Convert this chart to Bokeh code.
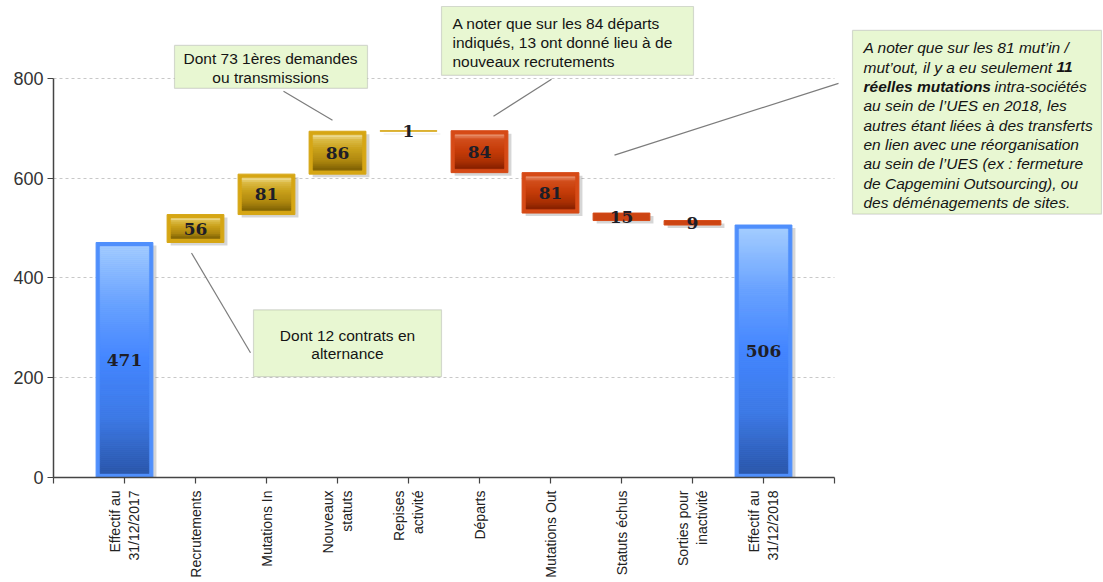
import math
from bokeh.plotting import figure
from bokeh.models import Range1d, FixedTicker, BoxAnnotation, Label, Arrow
from bokeh.core.properties import value
from bokeh.embed import file_html
from bokeh.resources import INLINE

# ---------------- data ----------------
categories = ["Effectif au\n31/12/2017", "Recrutements", "Mutations In", "Nouveaux\nstatuts",
              "Repises\nactivité", "Départs", "Mutations Out", "Statuts échus",
              "Sorties pour\ninactivité", "Effectif au\n31/12/2018"]
values = [471, 56, 81, 86, 1, -84, -81, -15, -9, 506]
kinds = ["total", "up", "up", "up", "up", "down", "down", "down", "down", "total"]
y_ticks = [0, 200, 400, 600, 800]

# ---------------- geometry ----------------
W, H = 1102, 580
BL = 53
BB = H - 478
PX_X = 71.0      # pixels per category
PX_Y = 0.5       # pixels per unit
x_end = (W - BL) / PX_X
y_end = (H - BB) / PX_Y


def X(px):  # page pixel -> data x
    return (px - 53) / PX_X


def Y(py):  # page pixel -> data y
    return (478 - py) / PX_Y


p = figure(width=W, height=H, output_backend="svg", toolbar_location=None,
           x_range=Range1d(0, x_end), y_range=Range1d(0, y_end),
           min_border_left=BL, min_border_right=0, min_border_top=0, min_border_bottom=BB)
p.outline_line_color = None
p.background_fill_color = "white"
p.border_fill_color = "white"

# ---------------- waterfall geometry from data ----------------
xs = list(range(1, len(categories) + 1))
bottoms, tops = [], []
running = 0
for v, k in zip(values, kinds):
    if k == "total":
        b, t = 0, v
        running = v
    else:
        b, t = sorted([running, running + v])
        running += v
    bottoms.append(b)
    tops.append(t)

hw = 0.4
border = {"total": "#4f8ffc", "up": "#d6a614", "down": "#d64a16"}
stops = {
    "total": [(0.0, "#a3ccff"), (0.25, "#6aa3ff"), (0.5, "#4486ff"), (0.75, "#3e7ae6"), (1.0, "#2b57aa")],
    "up": [(0.0, "#f1e3a6"), (0.14, "#dcbc48"), (0.4, "#c9a11c"), (0.75, "#ad870f"), (1.0, "#7e6104")],
    "down": [(0.0, "#ec9a78"), (0.15, "#d24e1c"), (0.5, "#c43b08"), (0.8, "#a83004"), (1.0, "#862000")],
}
thin_fill = {"total": "#4f8ffc", "up": "#e3bf55", "down": "#cc4412"}


def hex2rgb(h):
    h = h.lstrip("#")
    return tuple(int(h[i:i + 2], 16) for i in (0, 2, 4))


def interp(st, t):
    for (t0, c0), (t1, c1) in zip(st[:-1], st[1:]):
        if t0 <= t <= t1:
            f = (t - t0) / (t1 - t0) if t1 > t0 else 0
            a, b = hex2rgb(c0), hex2rgb(c1)
            return "#%02x%02x%02x" % tuple(int(round(a[i] + (b[i] - a[i]) * f)) for i in range(3))
    return st[-1][1]


# shadows
p.quad(left=[x - hw + 0.05 for x in xs], right=[x + hw + 0.05 for x in xs],
       bottom=[b - 6 for b in bottoms], top=[t - 6 for t in tops],
       fill_color="#000000", fill_alpha=0.16, line_alpha=0)

# outer bars
p.quad(left=[x - hw for x in xs], right=[x + hw for x in xs], bottom=bottoms, top=tops,
       fill_color=[border[k] if (t - b) * PX_Y > 12 else thin_fill[k] for k, b, t in zip(kinds, bottoms, tops)],
       line_color=[border[k] for k in kinds], line_width=1)

# inner gradients (about one slice per 2 px)
gl, gr, gb, gt, gc = [], [], [], [], []
dx, dy = 4 / PX_X, 4 / PX_Y
for x, b, t, k in zip(xs, bottoms, tops, kinds):
    if (t - b) * PX_Y <= 12:
        continue
    ib, it = b + dy, t - dy
    N = max(8, int((it - ib) * PX_Y / 2))
    step = (it - ib) / N
    for i in range(N):
        top_i = it - i * step
        gl.append(x - hw + dx)
        gr.append(x + hw - dx)
        gt.append(top_i)
        gb.append(top_i - step)
        gc.append(interp(stops[k], (i + 0.5) / N))
p.quad(left=gl, right=gr, bottom=gb, top=gt, fill_color=gc, line_color=gc, line_width=0.6)

# value labels
p.text(x=xs, y=[(b + t) / 2 for b, t in zip(bottoms, tops)], text=[str(abs(v)) for v in values],
       text_font=value("DejaVu Serif"), text_font_style="bold", text_font_size="17px",
       text_align="center", text_baseline="middle", text_color="#1e1e28")

# ---------------- axes & grid ----------------
n = len(categories)
p.xaxis.ticker = FixedTicker(ticks=list(range(0, n + 2)))
overrides = {0: "", n + 1: ""}
for i, c in enumerate(categories):
    overrides[i + 1] = c
p.xaxis.major_label_overrides = overrides
p.xaxis.bounds = (0, n + 1)
p.xaxis.major_label_orientation = math.pi / 2
p.xaxis.major_label_text_font = "Liberation Sans"
p.xaxis.major_label_text_font_size = "14px"
p.xaxis.major_label_text_color = "#222222"
p.xaxis.major_label_standoff = 7
p.xgrid.visible = False

p.yaxis.ticker = FixedTicker(ticks=y_ticks)
p.yaxis.bounds = (0, 800)
p.yaxis.major_label_text_font = "Liberation Sans"
p.yaxis.major_label_text_font_size = "18px"
p.yaxis.major_label_text_color = "#333333"
p.yaxis.major_label_standoff = 4
p.ygrid.ticker = FixedTicker(ticks=y_ticks)
p.ygrid.grid_line_color = "#c8c8c8"
p.ygrid.grid_line_dash = "3 3"
p.ygrid.grid_line_width = 1

for ax in (p.xaxis, p.yaxis):
    ax.axis_line_color = "#444444"
    ax.axis_line_width = 1.5
    ax.major_tick_line_color = "#444444"
    ax.major_tick_line_width = 1.2
    ax.major_tick_out = 6
    ax.major_tick_in = 0
    ax.minor_tick_line_color = None

# mask grid lines beyond the last category
p.add_layout(BoxAnnotation(left=n + 1, right=x_end + 1, bottom=1, top=y_end,
                           fill_color="white", fill_alpha=1, line_alpha=0, level="underlay"))

# ---------------- annotations ----------------
line_col = "#7c7c7c"
for (x0, y0, x1, y1) in [(283, 91, 332, 120), (551, 79, 493, 116), (838, 83, 614, 155), (191, 253, 250, 353)]:
    p.add_layout(Arrow(x_start=X(x0), y_start=Y(y0), x_end=X(x1), y_end=Y(y1), start=None, end=None,
                       line_color=line_col, line_width=1.2))

box_fill = "#e8f7d2"
box_line = "#8c8c8c"
for (l, t, r, b) in [(174, 45, 367, 88), (441, 6, 693, 75), (852, 30, 1101, 214), (253, 310, 441, 377)]:
    p.add_layout(BoxAnnotation(left=X(l), right=X(r), top=Y(t), bottom=Y(b),
                               fill_color=box_fill, fill_alpha=1, line_color=box_line, line_width=1.2))

FS = "15.5px"


def lab(txt, px, py, align="left", style="normal"):
    p.add_layout(Label(x=X(px), y=Y(py), text=txt, text_font="Liberation Sans", text_font_size=FS,
                       text_font_style=style, text_align=align, text_baseline="middle", text_color="#141414"))


lab("Dont 73 1ères demandes", 270, 58, "center")
lab("ou transmissions", 270, 77, "center")

lab("A noter que sur les 84 départs", 452, 23)
lab("indiqués, 13 ont donné lieu à de", 452, 42)
lab("nouveaux recrutements", 452, 61)

lab("Dont 12 contrats en", 347, 336, "center")
lab("alternance", 347, 354, "center")

l3 = 863
y3 = [47.3 + i * 19.4 for i in range(9)]
lab("A noter que sur les 81 mut’in /", l3, y3[0], style="italic")
lab("mut’out, il y a eu seulement", l3, y3[1], style="italic")
lab("11", 1056, y3[1], style="bold italic")
lab("réelles mutations", l3, y3[2], style="bold italic")
lab("intra-sociétés", 994, y3[2], style="italic")
lab("au sein de l’UES en 2018, les", l3, y3[3], style="italic")
lab("autres étant liées à des transferts", l3, y3[4], style="italic")
lab("en lien avec une réorganisation", l3, y3[5], style="italic")
lab("au sein de l’UES (ex : fermeture", l3, y3[6], style="italic")
lab("de Capgemini Outsourcing), ou", l3, y3[7], style="italic")
lab("des déménagements de sites.", l3, y3[8], style="italic")

open("out.html", "w").write(file_html(p, INLINE))
